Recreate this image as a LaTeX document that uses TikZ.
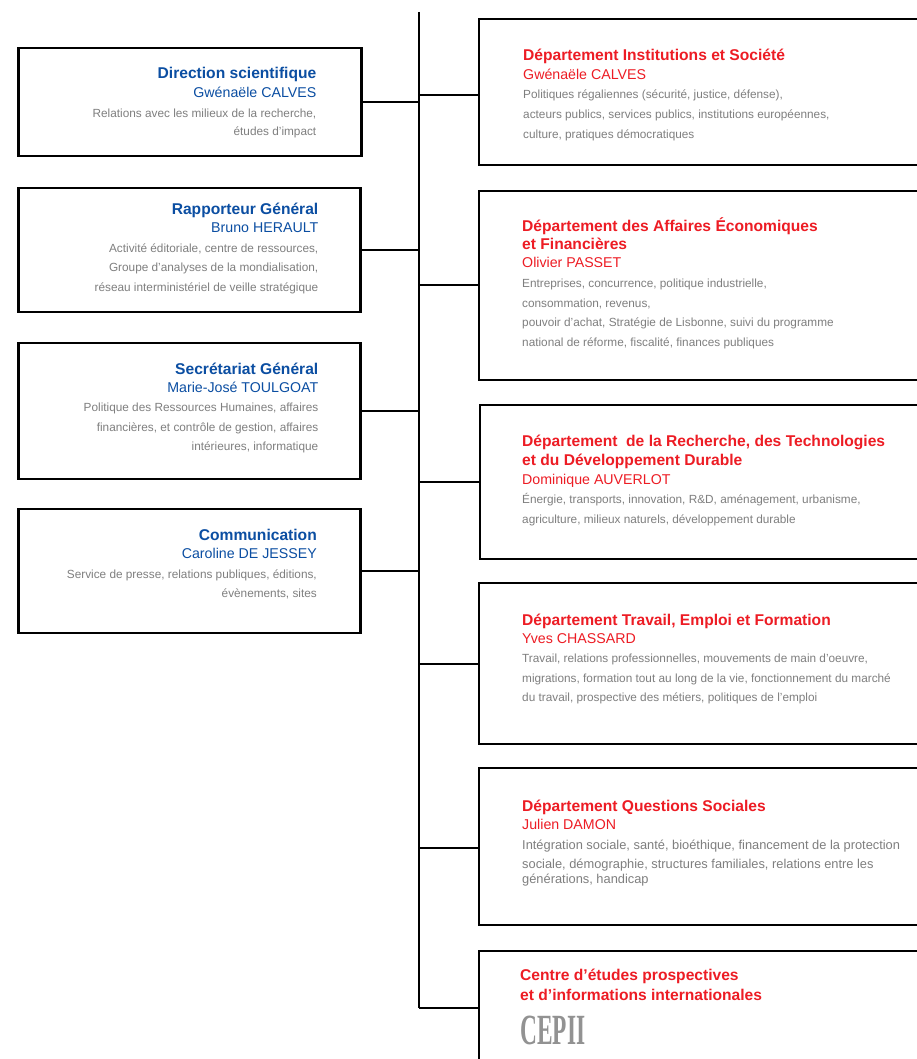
\documentclass[tikz,border=0pt]{standalone}
\usepackage{fontspec,xcolor,graphicx}
\setmainfont{Liberation Sans}
\definecolor{bleu}{HTML}{0B4EA2}
\definecolor{rouge}{HTML}{ED1C24}
\definecolor{gris}{HTML}{7F7F7F}
\newcommand{\titreb}[1]{\smash{\fontsize{15.6}{17.5}\selectfont\bfseries\color{bleu}#1}}
\newcommand{\nomb}[1]{\smash{\fontsize{14.2}{17.5}\selectfont\color{bleu}#1}}
\newcommand{\titrer}[1]{\smash{\fontsize{15.6}{18}\selectfont\bfseries\color{rouge}#1}}
\newcommand{\nomr}[1]{\smash{\fontsize{14.2}{17.5}\selectfont\color{rouge}#1}}
\newcommand{\desc}[1]{\smash{\fontsize{11.8}{19.5}\selectfont\color{gris}#1}}
\newcommand{\descs}[1]{\smash{\fontsize{12.85}{17.5}\selectfont\color{gris}#1}}
\tikzset{
	cadre/.style={draw=black, line width=2.2pt, rectangle, fill=white, inner sep=0pt},
	lien/.style={draw=black, line width=2.2pt},
	texteg/.style={anchor=north east, align=right, inner sep=0pt},
	texted/.style={anchor=north west, align=left, inner sep=0pt}
}
\begin{document}
\begin{tikzpicture}[x=1pt, y=-1pt]
	\useasboundingbox (0, 0) rectangle (917, 1059);
	\clip (0, 0) rectangle (917, 1059);

	% cadres gauche
	\draw (190, 102) 	node[cadre, minimum width=343pt, minimum height=108pt] 	(dirsci) 	{};
	\draw (189.5, 250) 	node[cadre, minimum width=342pt, minimum height=124pt] 	(rapgen) 	{};
	\draw (189.5, 411) 	node[cadre, minimum width=342pt, minimum height=136pt] 	(secgen) 	{};
	\draw (189.5, 571) 	node[cadre, minimum width=342pt, minimum height=124pt] 	(com) 		{};

	% cadres droite
	\draw (729, 92) 	node[cadre, minimum width=500pt, minimum height=146pt] 	(inst) 		{};
	\draw (729, 285.5) 	node[cadre, minimum width=500pt, minimum height=189pt] 	(eco) 		{};
	\draw (730, 482) 	node[cadre, minimum width=500pt, minimum height=154pt] 	(rech) 		{};
	\draw (729, 663.5) 	node[cadre, minimum width=500pt, minimum height=161pt] 	(trav) 		{};
	\draw (729, 846.5) 	node[cadre, minimum width=500pt, minimum height=157pt] 	(soc) 		{};
	\draw (729, 1031) 	node[cadre, minimum width=500pt, minimum height=160pt] 	(cepii) 	{};

	% tronc
	\coordinate (haut) at (419, 12);
	\coordinate (bas) at (419, 1008);
	\coordinate (d1) at (419, 95);
	\coordinate (d2) at (419, 285);
	\coordinate (d3) at (419, 482);
	\coordinate (d4) at (419, 664);
	\coordinate (d5) at (419, 848);
	\draw[lien] (haut) -- (bas);

	\draw[lien] (dirsci.east) -- (dirsci.east -| haut);
	\draw[lien] (rapgen.east) -- (rapgen.east -| haut);
	\draw[lien] (secgen.east) -- (secgen.east -| haut);
	\draw[lien] (com.east) -- (com.east -| haut);
	\draw[lien] (d1) -- (d1 -| inst.west);
	\draw[lien] (d2) -- (d2 -| eco.west);
	\draw[lien] (d3) -- (d3 -| rech.west);
	\draw[lien] (d4) -- (d4 -| trav.west);
	\draw[lien] (d5) -- (d5 -| soc.west);
	\draw[lien] (bas) -- (bas -| cepii.west);

	% textes gauche
	\draw (316.5, 78.7) 	node[texteg] 	(t_dirsci) 	{\titreb{Direction scientifique}\\[6.3pt] \nomb{Gwénaële CALVES}\\[8pt] \desc{Relations avec les milieux de la recherche,}\\[6.8pt] \desc{études d’impact}};
	\draw (318.5, 214) 	node[texteg] 	(t_rapgen) 	{\titreb{Rapporteur Général}\\[6.3pt] \nomb{Bruno HERAULT}\\[8pt] \desc{Activité éditoriale, centre de ressources,}\\[7pt] \desc{Groupe d’analyses de la mondialisation,}\\[8pt] \desc{réseau interministériel de veille stratégique}};
	\draw (318.5, 374) 	node[texteg] 	(t_secgen) 	{\titreb{Secrétariat Général}\\[6pt] \nomb{Marie-José TOULGOAT}\\[7.7pt] \desc{Politique des Ressources Humaines, affaires}\\[8pt] \desc{financières, et contrôle de gestion, affaires}\\[6.6pt] \desc{intérieures, informatique}};
	\draw (317, 540) 	node[texteg] 	(t_com) 	{\titreb{Communication}\\[6pt] \nomb{Caroline DE JESSEY}\\[8pt] \desc{Service de presse, relations publiques, éditions,}\\[7.3pt] \desc{évènements, sites}};

	% textes droite
	\draw (523, 60.7) 	node[texted] 	(t_inst) 	{\titrer{Département Institutions et Société}\\[6.3pt] \nomr{Gwénaële CALVES}\\[7.3pt] \desc{Politiques régaliennes (sécurité, justice, défense),}\\[8pt] \desc{acteurs publics, services publics, institutions européennes,}\\[8pt] \desc{culture, pratiques démocratiques}};
	\draw (522, 231.7) 	node[texted] 	(t_eco) 	{\titrer{Département des Affaires Économiques}\\[5.6pt] \titrer{et Financières}\\[6.4pt] \nomr{Olivier PASSET}\\[8pt] \desc{Entreprises, concurrence, politique industrielle,}\\[8pt] \desc{consommation, revenus,}\\[7pt] \desc{pouvoir d’achat, Stratégie de Lisbonne, suivi du programme}\\[7.3pt] \desc{national de réforme, fiscalité, finances publiques}};
	\draw (522, 446.7) 	node[texted] 	(t_rech) 	{\titrer{Département\ \ de la Recherche, des Technologies}\\[7pt] \titrer{et du Développement Durable}\\[6.3pt] \nomr{Dominique AUVERLOT}\\[7.3pt] \desc{Énergie, transports, innovation, R\&D, aménagement, urbanisme,}\\[8pt] \desc{agriculture, milieux naturels, développement durable}};
	\draw (522, 625) 	node[texted] 	(t_trav) 	{\titrer{Département Travail, Emploi et Formation}\\[6.3pt] \nomr{Yves CHASSARD}\\[7pt] \desc{Travail, relations professionnelles, mouvements de main d'oeuvre,}\\[8pt] \desc{migrations, formation tout au long de la vie, fonctionnement du marché}\\[7.4pt] \desc{du travail, prospective des métiers, politiques de l'emploi}};
	\draw (522, 811) 	node[texted] 	(t_soc) 	{\titrer{Département Questions Sociales}\\[6.3pt] \nomr{Julien DAMON}\\[8pt] \descs{Intégration sociale, santé, bioéthique, financement de la protection}\\[7.4pt] \descs{sociale, démographie, structures familiales, relations entre les}\\[2.6pt] \descs{générations, handicap}};
	\draw (520, 980.7) 	node[texted] 	(t_cepii) 	{\titrer{Centre d’études prospectives}\\[7.3pt] \titrer{et d’informations internationales}};
	\draw (520, 1016) 	node[texted, text=gris!85] 	(logo) 	{\resizebox{65pt}{28.5pt}{\fontspec{Liberation Serif}\bfseries CEPII}};
\end{tikzpicture}
\end{document}
